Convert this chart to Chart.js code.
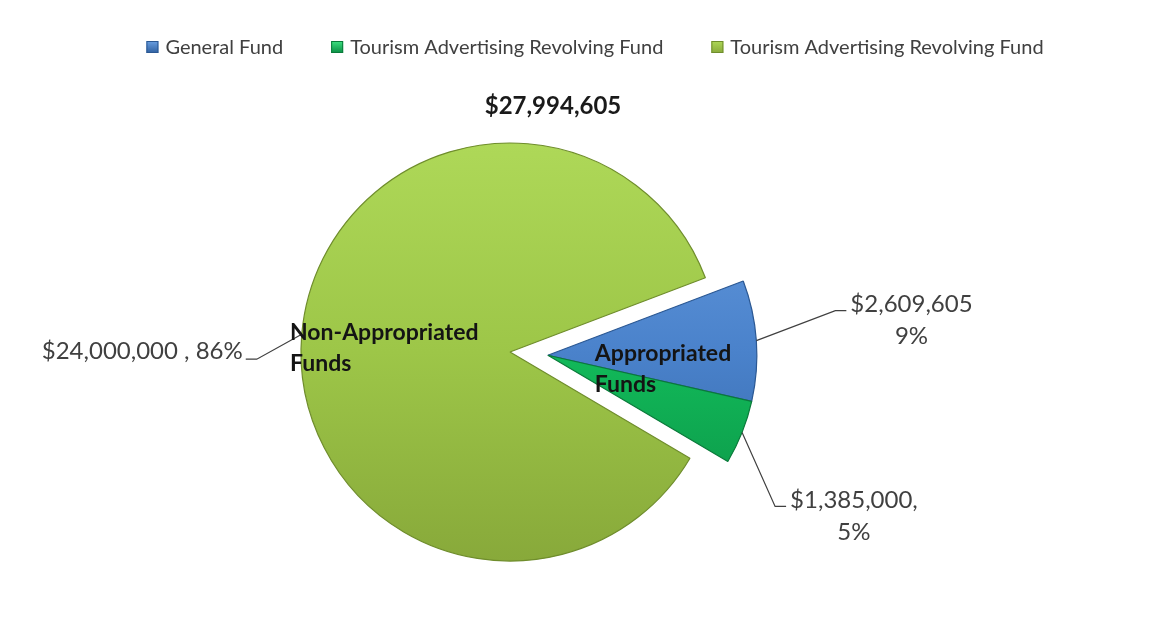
<!DOCTYPE html>
<html lang="en">
<head>
<meta charset="UTF-8">
<title>Tourism Funding</title>
<script src="https://cdn.jsdelivr.net/npm/chart.js"></script>
<style>
  body { margin: 0; background: #fff; }
  #wrap { position: relative; width: 1167px; height: 625px; }
</style>
</head>
<body>
<div id="wrap"><canvas id="fundsChart"></canvas></div>
<script>
const categories = ['General Fund', 'Tourism Advertising Revolving Fund', 'Tourism Advertising Revolving Fund'];
const amounts = [2609605, 1385000, 24000000];
// how each value/percent pair is joined in its label
const labelJoin = ['\n', ',\n', ' , '];
const groupNames = ['Appropriated\nFunds', 'Non-Appropriated\nFunds'];

// top / middle / bottom shades for each slice, plus its rim colour
const shades = [
  ['#6a9fe2', '#4a82cb', '#2f60a0'],
  ['#3fe282', '#12ba5a', '#0a8d43'],
  ['#aed858', '#9dc648', '#88a93a']
];
const rims = ['#2b5893', '#0a7a3a', '#6f8d2c'];
const leaderOffsets = [[79, -30], [33, 74], [-45, 25]];

const total = amounts.reduce((a, b) => a + b, 0);
const money = v => '$' + v.toLocaleString('en-US');
const FONT = 'Lato, "Open Sans", sans-serif';

function fill(ctx) {
  const chart = ctx.chart, area = chart.chartArea;
  const s = shades[ctx.dataIndex];
  if (!area) return s[1];
  const g = chart.ctx.createLinearGradient(0, area.top, 0, area.bottom);
  g.addColorStop(0, s[0]);
  g.addColorStop(0.5, s[1]);
  g.addColorStop(1, s[2]);
  return g;
}

// pull the two appropriated slices out together along their shared middle
const explode = {
  id: 'explode',
  afterDatasetsUpdate(chart) {
    const arcs = chart.getDatasetMeta(0).data;
    const mid = (arcs[0].startAngle + arcs[1].endAngle) / 2;
    const d = 38;
    [arcs[0], arcs[1]].forEach(a => {
      a.x += d * Math.cos(mid);
      a.y += d * Math.sin(mid);
    });
  }
};

const decorations = {
  id: 'decorations',
  afterDatasetsDraw(chart) {
    const c = chart.ctx;
    const arcs = chart.getDatasetMeta(0).data;
    c.save();

    // legend
    c.font = '20px ' + FONT;
    c.textBaseline = 'middle';
    const box = 12, gapIn = 7, gapOut = 48;
    const widths = categories.map(t => c.measureText(t).width);
    const full = widths.reduce((a, w) => a + box + gapIn + w, 0) + gapOut * (categories.length - 1);
    let x = 595 - full / 2;
    categories.forEach((t, i) => {
      const g = c.createLinearGradient(0, 41, 0, 53);
      g.addColorStop(0, shades[i][0]);
      g.addColorStop(1, shades[i][2]);
      c.fillStyle = g;
      c.fillRect(x, 41, box, box);
      c.strokeStyle = rims[i];
      c.lineWidth = 1;
      c.strokeRect(x + 0.5, 41.5, box - 1, box - 1);
      x += box + gapIn;
      c.fillStyle = '#404040';
      c.textAlign = 'left';
      c.fillText(t, x, 48);
      x += widths[i] + gapOut;
    });

    // total above the pie
    c.font = 'bold 24px ' + FONT;
    c.fillStyle = '#1a1a1a';
    c.textAlign = 'center';
    c.fillText(money(total), 553, 106);

    // value labels with leader lines
    c.font = '24px ' + FONT;
    arcs.forEach((a, i) => {
      const m = (a.startAngle + a.endAngle) / 2;
      const px = a.x + a.outerRadius * Math.cos(m);
      const py = a.y + a.outerRadius * Math.sin(m);
      const ex = px + leaderOffsets[i][0], ey = py + leaderOffsets[i][1];
      const dir = Math.sign(leaderOffsets[i][0]);
      const tx = ex + dir * 11;
      c.strokeStyle = '#404040';
      c.lineWidth = 1.2;
      c.beginPath();
      c.moveTo(px, py);
      c.lineTo(ex, ey);
      c.lineTo(tx, ey);
      c.stroke();

      const pct = Math.round(amounts[i] / total * 100) + '%';
      const lines = (money(amounts[i]) + labelJoin[i] + pct).split('\n');
      c.fillStyle = '#404040';
      if (lines.length === 1) {
        c.textAlign = dir < 0 ? 'right' : 'left';
        c.fillText(lines[0], tx + dir * 3, ey - 8);
      } else {
        const w = Math.max(...lines.map(l => c.measureText(l).width));
        const cx = tx + 4 + w / 2;
        c.textAlign = 'center';
        lines.forEach((l, k) => c.fillText(l, cx, ey - 6 + k * 32));
      }
    });

    // group names inside the pie
    c.font = 'bold 23px ' + FONT;
    c.fillStyle = '#141414';
    c.textAlign = 'left';
    const inner = [
      [arcs[0], 47, -2],
      [arcs[2], -220, -19]
    ];
    inner.forEach(([a, dx, dy], k) => {
      groupNames[k].split('\n').forEach((l, j) => c.fillText(l, a.x + dx, a.y + dy + j * 31));
    });

    c.restore();
  }
};

new Chart(document.getElementById('fundsChart'), {
  type: 'pie',
  data: {
    labels: categories,
    datasets: [{
      data: amounts,
      backgroundColor: fill,
      borderColor: rims,
      borderWidth: 1.2,
      radius: 209
    }]
  },
  options: {
    responsive: true,
    maintainAspectRatio: false,
    animation: false,
    events: [],
    rotation: 69.2,
    layout: { padding: { top: 143, bottom: 64, left: 301, right: 448 } },
    plugins: {
      legend: { display: false },
      tooltip: { enabled: false }
    }
  },
  plugins: [explode, decorations]
});
</script>
</body>
</html>
